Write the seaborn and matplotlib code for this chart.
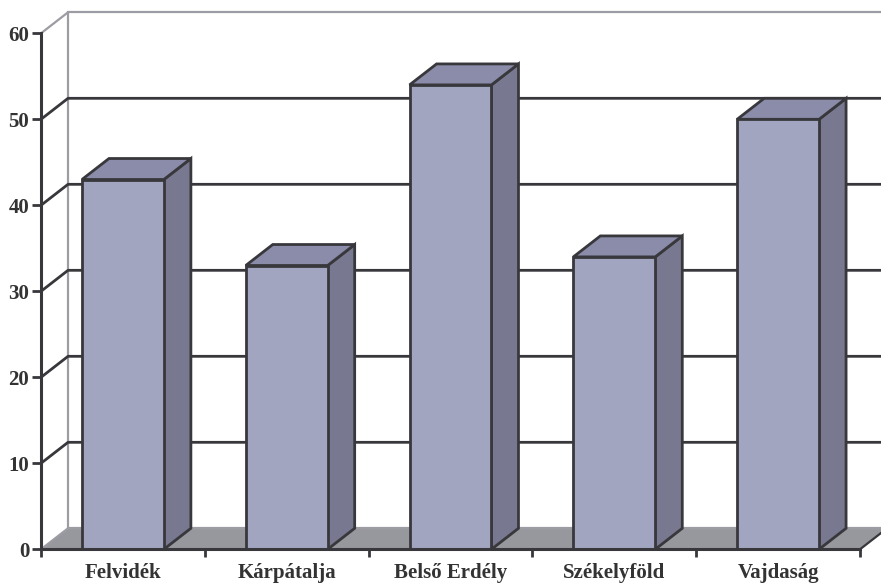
import matplotlib

matplotlib.use("Agg")
import matplotlib.pyplot as plt
import pandas as pd
import seaborn as sns
from matplotlib.patches import Polygon, Rectangle

regions = ["Felvidék", "Kárpátalja", "Belső Erdély", "Székelyföld", "Vajdaság"]
values = [43, 33, 54, 34, 50]
y_ticks = [0, 10, 20, 30, 40, 50, 60]

FRONT = "#a1a5bf"
SIDE = "#787890"
TOP = "#8a8ca9"
FLOOR = "#97989d"
EDGE = "#38383c"
WALL = "#9c9ca4"
# 3D depth offset (in category / value units)
DEPTH_X = 0.165
DEPTH_Y = 2.44

sns.set_style("white")
plt.rcParams["font.family"] = ["Liberation Serif", "DejaVu Serif"]

df = pd.DataFrame({"region": regions, "value": values})

fig = plt.figure(figsize=(8.81, 5.86), dpi=100)
ax = fig.add_axes([41 / 881, 36.7 / 586, 840 / 881, 549.3 / 586])

sns.barplot(data=df, x="region", y="value", width=0.5, color=FRONT, saturation=1,
            edgecolor=EDGE, linewidth=2, ax=ax, zorder=3)
bars = list(ax.patches)

x0, x1 = -0.5, len(regions) - 0.5
ytop = y_ticks[-1]

# back wall + gridlines (back and left side wall)
ax.add_patch(Rectangle((x0 + DEPTH_X, DEPTH_Y), x1 - x0, ytop, fill=False,
                       edgecolor=WALL, lw=1.6, zorder=1))
for v in y_ticks[1:-1]:
    ax.plot([x0, x0 + DEPTH_X, x1 + DEPTH_X], [v, v + DEPTH_Y, v + DEPTH_Y],
            color=EDGE, lw=2, zorder=1.5)
ax.plot([x0, x0 + DEPTH_X], [ytop, ytop + DEPTH_Y], color=WALL, lw=1.6, zorder=1)

# floor
ax.add_patch(Polygon([(x0, 0), (x1, 0), (x1 + DEPTH_X, DEPTH_Y), (x0 + DEPTH_X, DEPTH_Y)],
                     facecolor=FLOOR, edgecolor="none", zorder=2))
ax.plot([x0, x0 + DEPTH_X, x1 + DEPTH_X], [0, DEPTH_Y, DEPTH_Y], color=WALL, lw=1.6, zorder=2)
ax.plot([x1, x1 + DEPTH_X], [0, DEPTH_Y], color=EDGE, lw=1.6, zorder=2)

# top and side faces of the bars
for bar in bars:
    xl = bar.get_x()
    xr = xl + bar.get_width()
    h = bar.get_height()
    ax.add_patch(Polygon([(xr, 0), (xr + DEPTH_X, DEPTH_Y), (xr + DEPTH_X, h + DEPTH_Y), (xr, h)],
                         facecolor=SIDE, edgecolor=EDGE, lw=2, zorder=2.9, joinstyle="miter"))
    ax.add_patch(Polygon([(xl, h), (xr, h), (xr + DEPTH_X, h + DEPTH_Y), (xl + DEPTH_X, h + DEPTH_Y)],
                         facecolor=TOP, edgecolor=EDGE, lw=2, zorder=2.9, joinstyle="miter"))

ax.set_xlim(x0, x0 + 840 / 163.8)
ax.set_ylim(0, 549.3 / 8.6)
ax.set_xlabel("")
ax.set_ylabel("")

ax.set_yticks(y_ticks)
ax.set_yticklabels([str(v) for v in y_ticks], fontsize=15, fontweight="bold", color="#333333")
ax.set_xticks(range(len(regions)))
ax.set_xticklabels(regions, fontsize=15, fontweight="bold", color="#333333")
ax.set_xticks([x0 + i for i in range(len(regions) + 1)], minor=True)
ax.tick_params(axis="x", which="major", length=0, pad=10, bottom=True)
ax.tick_params(axis="x", which="minor", length=6, width=2, color=EDGE, direction="out", bottom=True)
ax.tick_params(axis="y", length=6.5, width=2, color=EDGE, direction="out", pad=2, left=True)

for side in ["top", "right"]:
    ax.spines[side].set_visible(False)
ax.spines["left"].set_bounds(0, ytop)
ax.spines["bottom"].set_bounds(x0, x1)
for side in ["left", "bottom"]:
    ax.spines[side].set_color(EDGE)
    ax.spines[side].set_linewidth(2.2)
    ax.spines[side].set_zorder(4)

fig.savefig("out.png", dpi=100)
